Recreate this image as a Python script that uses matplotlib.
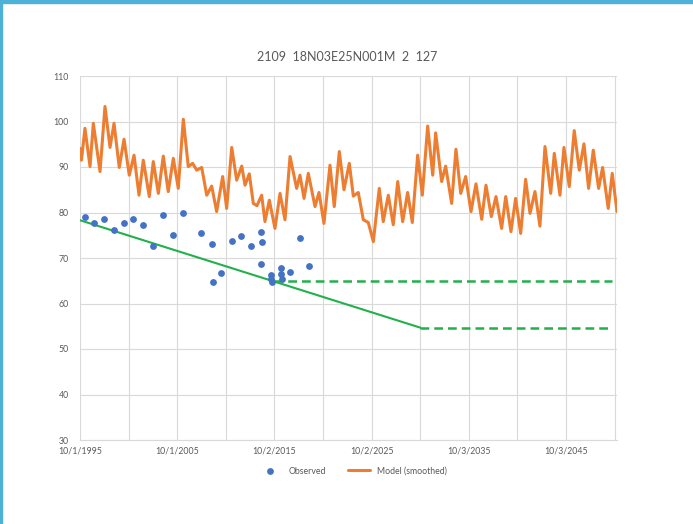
import datetime as dt
import matplotlib
matplotlib.use('Agg')
import matplotlib.pyplot as plt
import matplotlib.dates as mdates
from matplotlib.patches import Rectangle

# Model (smoothed) - decimal years and values
model_years = [1995.75, 1995.90, 1996.26, 1996.78, 1997.12, 1997.81, 1998.32, 1998.84,
               1999.25, 1999.79, 2000.28, 2000.82, 2001.31, 2001.82, 2002.26, 2002.88,
               2003.29, 2003.81, 2004.32, 2004.83, 2005.35, 2005.86, 2006.38, 2006.89,
               2007.34, 2007.76, 2008.27, 2008.79, 2009.30, 2009.81, 2010.43, 2010.84,
               2011.36, 2011.87, 2012.39, 2012.73, 2013.17, 2013.58, 2013.96, 2014.44,
               2014.78, 2015.23, 2015.81, 2016.33, 2016.84, 2017.36, 2018.04, 2018.38,
               2018.80, 2019.24, 2019.93, 2020.34, 2020.85, 2021.47, 2021.91, 2022.43,
               2022.91, 2023.46, 2023.87, 2024.38, 2024.90, 2025.41, 2025.93, 2026.54,
               2026.95, 2027.47, 2027.98, 2028.44, 2028.95, 2029.46, 2029.94, 2030.49,
               2030.97, 2031.52, 2032.04, 2032.34, 2032.96, 2033.37, 2033.99, 2034.43,
               2034.92, 2035.43, 2035.98, 2036.49, 2037.08, 2037.52, 2038.07, 2038.55,
               2039.13, 2039.55, 2040.09, 2040.57, 2041.09, 2041.60, 2042.05, 2042.56,
               2043.07, 2043.59, 2044.18, 2044.55, 2045.13, 2045.54, 2046.09, 2046.60,
               2047.12, 2047.60, 2048.08, 2048.56, 2049.11, 2049.52, 2050.10, 2050.51,
               2051.00]
model_vals = [94.1, 91.5, 98.5, 90.1, 99.6, 89.0, 103.3, 94.3,
              99.6, 89.9, 96.1, 88.2, 92.6, 83.8, 91.5, 83.5,
              91.2, 84.2, 92.4, 84.6, 91.9, 85.3, 100.5, 90.1,
              90.8, 89.3, 89.9, 83.8, 85.8, 80.2, 87.9, 80.9,
              94.3, 87.1, 90.2, 86.0, 88.5, 82.0, 81.5, 83.8,
              78.0, 82.7, 76.5, 84.2, 78.4, 92.3, 85.3, 88.2,
              83.1, 88.6, 81.3, 84.4, 77.6, 90.4, 81.3, 93.4,
              85.0, 90.8, 83.6, 84.4, 78.4, 77.8, 73.6, 85.3,
              78.0, 83.8, 77.3, 86.8, 78.0, 84.4, 77.8, 92.6,
              83.8, 99.0, 88.2, 97.5, 86.8, 90.2, 82.0, 93.9,
              84.2, 87.9, 80.2, 86.3, 78.5, 86.0, 79.1, 83.5,
              76.5, 83.5, 75.8, 83.1, 75.4, 87.3, 79.8, 84.6,
              77.0, 94.5, 84.2, 93.0, 83.8, 94.3, 85.7, 98.0,
              89.3, 95.1, 85.3, 93.7, 85.3, 89.9, 80.9, 88.6,
              80.2]

# Observed
obs_years = [1996.26, 1997.22, 1998.22, 1999.22, 2000.25, 2001.23, 2002.23, 2003.23,
             2004.32, 2005.29, 2006.32, 2008.25, 2009.30, 2009.46, 2010.29, 2011.36,
             2012.34, 2013.34, 2014.40, 2014.51, 2014.34, 2015.43, 2015.43, 2015.50,
             2016.40, 2016.40, 2016.53, 2017.35, 2018.35, 2019.34]
obs_vals = [79.0, 77.6, 78.5, 76.2, 77.8, 78.5, 77.2, 72.7,
            79.5, 75.1, 80.0, 75.6, 73.0, 64.8, 66.8, 73.8,
            74.8, 72.6, 75.8, 73.5, 68.6, 66.2, 65.4, 64.7,
            67.7, 66.5, 65.4, 66.9, 74.5, 68.3]

# Green trend line and the two flat projections
trend_years = [1995.75, 2030.75]
trend_vals = [78.3, 54.7]
upper_years = [2015.75, 2050.50]
upper_vals = [65.0, 65.0]
lower_years = [2030.75, 2050.50]
lower_vals = [54.7, 54.7]

xtick_labels = ['10/1/1995', '10/1/2005', '10/2/2015', '10/2/2025', '10/3/2035', '10/3/2045']
title = '2109  18N03E25N001M  2  127'

START = dt.datetime(1995, 10, 1)


def to_num(years):
    return [mdates.date2num(START + dt.timedelta(days=(y - 1995.75) * 365.25)) for y in years]


plt.rcParams['font.family'] = ['Lato', 'DejaVu Sans']
fig = plt.figure(figsize=(6.93, 5.24), dpi=100)
ax = fig.add_axes([80 / 693, 1 - 440 / 524, 537 / 693, 364 / 524])

grid_c = '#D9D9D9'
ax.plot(to_num(model_years), model_vals, color='#ED7D31', lw=2.2,
        solid_joinstyle='round', solid_capstyle='round', zorder=3, label='Model (smoothed)')
ax.scatter(to_num(obs_years), obs_vals, s=24, color='#4472C4', zorder=4,
           linewidths=0, label='Observed')
ax.plot(to_num(trend_years), trend_vals, color='#22B04B', lw=1.5, zorder=3)
ax.plot(to_num(upper_years), upper_vals, color='#22B04B', lw=1.8, dashes=(3.5, 2), zorder=3)
ax.plot(to_num(lower_years), lower_vals, color='#22B04B', lw=1.8, dashes=(3.5, 2), zorder=3)

# x ticks from the label dates, gridlines every half interval
tick_nums = [mdates.date2num(dt.datetime.strptime(s, '%m/%d/%Y')) for s in xtick_labels]
mid_nums = [(a + b) / 2 for a, b in zip(tick_nums[:-1], tick_nums[1:])]
mid_nums.append(tick_nums[-1] + (tick_nums[1] - tick_nums[0]) / 2)
ax.set_xticks(tick_nums)
ax.set_xticklabels(xtick_labels)
ax.set_xticks(mid_nums, minor=True)
ax.set_xlim(to_num([1995.75])[0], to_num([2051.0])[0])
ax.set_ylim(30, 110)
ax.set_yticks(range(30, 111, 10))

ax.grid(True, which='both', color=grid_c, lw=0.8)
ax.set_axisbelow(True)
for s in ['top', 'right', 'left']:
    ax.spines[s].set_visible(False)
ax.spines['bottom'].set_color(grid_c)
ax.tick_params(axis='both', which='both', length=0, labelsize=6.3, labelcolor='#595959')
ax.tick_params(axis='x', pad=5)
ax.tick_params(axis='y', pad=8)

fig.text(347 / 693, 1 - 57 / 524, title, ha='center', va='center',
         fontsize=9, color='#595959')

h, l = ax.get_legend_handles_labels()
fig.legend([h[1], h[0]], [l[1], l[0]], loc='center', bbox_to_anchor=(353 / 693, 1 - 471 / 524),
           ncol=2, frameon=False, fontsize=6.3, labelcolor='#595959',
           handlelength=2.6, columnspacing=2.5, handletextpad=0.8)

# blue frame around the screenshot
fig.patches.append(Rectangle((0, 1 - 3 / 524), 1, 3 / 524, transform=fig.transFigure,
                             color='#4DB1D8', zorder=10))
fig.patches.append(Rectangle((0, 0), 2 / 693, 1, transform=fig.transFigure,
                             color='#4DB1D8', zorder=10))

fig.savefig('out.png', dpi=100)
